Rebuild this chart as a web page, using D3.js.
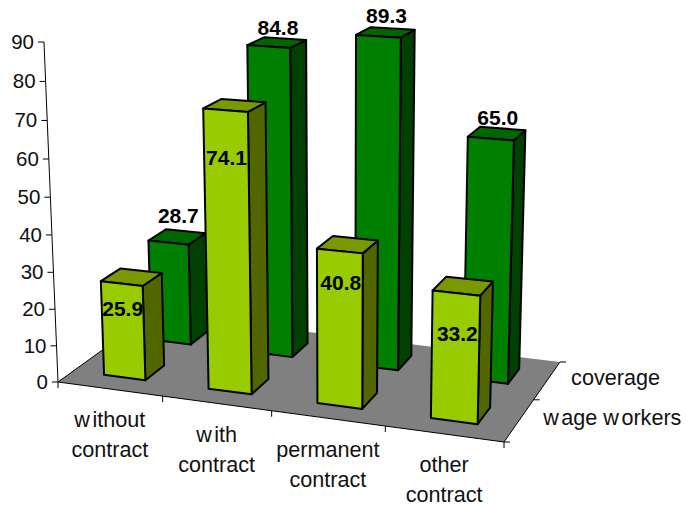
<!DOCTYPE html>
<html>
<head>
<meta charset="utf-8">
<script src="https://cdn.jsdelivr.net/npm/d3@7"></script>
<style>
  html, body { margin: 0; background: #fff; }
  svg { display: block; }
  text { font-family: "Liberation Sans", Arial, sans-serif; fill: #111; }
</style>
</head>
<body>
<div id="vis"></div>
<script>
// Data
const CATEGORIES = [["without", "contract"], ["with", "contract"], ["permanent", "contract"], ["other", "contract"]];
const SERIES = ["wage workers", "coverage"];   // front row first
const WAGE_WORKERS = [25.9, 74.1, 40.8, 33.2];
const COVERAGE = [28.7, 84.8, 89.3, 65.0];
const VALUE_TICKS = [0, 10, 20, 30, 40, 50, 60, 70, 80, 90];

const WIDTH = 686;
const HEIGHT = 509;

// Where the floor corners and the top of the value axis land on screen
const FLOOR = { x0: 58, y0: 382, x1: 504, y1: 442, x2: 560, y2: 362, x3: 153, y3: 313.6 };
const AXIS_TOP_Y = 42;
const VANISH = { x: 340, y: 7228 }; // vertical lines converge down here

// Label nudges in px from the top of the bar (the original labels were placed by hand)
const LIGHT_LABEL_DY = [32, 55, 39, 48];
const GREEN_LABEL_DY = [-14, -8, -9, -9];

const COLORS = {
    "wage workers": { front: "#99cc00", top: "#7a9900", side: "#526600" },
    "coverage": { front: "#008000", top: "#006600", side: "#004000" }
};

const svg = d3.select("#vis").append("svg").attr("width", WIDTH).attr("height", HEIGHT);

// Floor homography, unit square -> screen
const sx = FLOOR.x0 - FLOOR.x1 + FLOOR.x2 - FLOOR.x3;
const sy = FLOOR.y0 - FLOOR.y1 + FLOOR.y2 - FLOOR.y3;
const dx1 = FLOOR.x1 - FLOOR.x2, dx2 = FLOOR.x3 - FLOOR.x2;
const dy1 = FLOOR.y1 - FLOOR.y2, dy2 = FLOOR.y3 - FLOOR.y2;
const det = dx1 * dy2 - dx2 * dy1;
const g = (sx * dy2 - dx2 * sy) / det;
const h = (dx1 * sy - sx * dy1) / det;
const a = FLOOR.x1 - FLOOR.x0 + g * FLOOR.x1, b = FLOOR.x3 - FLOOR.x0 + h * FLOOR.x3;
const d = FLOOR.y1 - FLOOR.y0 + g * FLOOR.y1, e = FLOOR.y3 - FLOOR.y0 + h * FLOOR.y3;
const s = (AXIS_TOP_Y - FLOOR.y0) / (VANISH.y - AXIS_TOP_Y);

// u along the categories, v into the depth, z up, all 0..1
function project(u, v, z) {
    const w = g * u + h * v + 1 + s * z;
    return [
        (a * u + b * v + FLOOR.x0 + s * z * VANISH.x) / w,
        (d * u + e * v + FLOOR.y0 + s * z * VANISH.y) / w
    ];
}

const names = CATEGORIES.map(c => c.join(" "));
const escalaX = d3.scaleBand().domain(names).range([0, 1]).paddingInner(0.6).paddingOuter(0.3);
const escalaDepth = d3.scaleBand().domain(SERIES).range([0, 1]).paddingInner(0.6).paddingOuter(0.3);
const escalaZ = d3.scaleLinear().domain([0, 90]).range([0, 1]);

const poly = d3.line();
const closed = pts => poly(pts) + "Z";

// "w" is set very wide in the original, the gap after it is part of the look
function addText(parent, str, x, y, anchor, size) {
    const t = parent.append("text")
        .attr("x", x).attr("y", y)
        .attr("text-anchor", anchor)
        .attr("font-size", size);
    str.split(/(?<=w)/).forEach((part, i) => {
        t.append("tspan").attr("dx", i ? 2.5 : 0).text(part);
    });
    return t;
}

// Floor
svg.append("path")
    .attr("d", closed([project(0, 0, 0), project(1, 0, 0), project(1, 1, 0), project(0, 1, 0)]))
    .attr("fill", "#808080");

svg.append("path")
    .attr("d", poly([project(0, 1, 0), project(0, 0, 0), project(1, 0, 0), project(1, 1, 0)]))
    .attr("fill", "none").attr("stroke", "#000").attr("stroke-width", 1);

// Value axis
svg.append("path")
    .attr("d", poly([project(0, 0, 0), project(0, 0, 1)]))
    .attr("stroke", "#000").attr("fill", "none");

const ticksY = svg.append("g").selectAll("g").data(VALUE_TICKS).join("g");
ticksY.append("line")
    .attr("x1", t => project(0, 0, escalaZ(t))[0] - 6)
    .attr("x2", t => project(0, 0, escalaZ(t))[0])
    .attr("y1", t => project(0, 0, escalaZ(t))[1])
    .attr("y2", t => project(0, 0, escalaZ(t))[1])
    .attr("stroke", "#000");
ticksY.append("text")
    .attr("x", t => project(0, 0, escalaZ(t))[0] - 10)
    .attr("y", t => project(0, 0, escalaZ(t))[1] + 7)
    .attr("text-anchor", "end")
    .attr("font-size", 20.5)
    .text(t => t);

// Category ticks and labels
d3.range(0, 5).forEach(i => {
    const p = project(i / 4, 0, 0);
    svg.append("line")
        .attr("x1", p[0]).attr("x2", p[0]).attr("y1", p[1]).attr("y2", p[1] + 6)
        .attr("stroke", "#000");
});
CATEGORIES.forEach((lines, i) => {
    const p = project(escalaX(names[i]) + escalaX.bandwidth() / 2, 0, 0);
    lines.forEach((line, j) => addText(svg, line, p[0], p[1] + 38.5 + j * 30, "middle", 21.6));
});

// Series ticks and labels
d3.range(0, 3).forEach(i => {
    const p = project(1, i / 2, 0);
    svg.append("line")
        .attr("x1", p[0]).attr("x2", p[0] + 6).attr("y1", p[1]).attr("y2", p[1])
        .attr("stroke", "#000");
});
SERIES.forEach(name => {
    const p = project(1, escalaDepth(name) + escalaDepth.bandwidth() / 2, 0);
    addText(svg, name, p[0] + 24, p[1] + 4.5, "start", 21.6);
});

// One bar: front, top and right side
function drawBar(name, category, value) {
    const u0 = escalaX(category), u1 = u0 + escalaX.bandwidth();
    const v0 = escalaDepth(name), v1 = v0 + escalaDepth.bandwidth();
    const z = escalaZ(value);
    const faces = [
        ["side", [project(u1, v0, 0), project(u1, v1, 0), project(u1, v1, z), project(u1, v0, z)]],
        ["top", [project(u0, v0, z), project(u1, v0, z), project(u1, v1, z), project(u0, v1, z)]],
        ["front", [project(u0, v0, 0), project(u1, v0, 0), project(u1, v0, z), project(u0, v0, z)]]
    ];
    svg.append("g").selectAll("path").data(faces).join("path")
        .attr("d", f => closed(f[1]))
        .attr("fill", f => COLORS[name][f[0]])
        .attr("stroke", "#000")
        .attr("stroke-width", 2)
        .attr("stroke-linejoin", "round");
}

// Back row first so the front row covers it
COVERAGE.forEach((v, i) => drawBar("coverage", names[i], v));
WAGE_WORKERS.forEach((v, i) => drawBar("wage workers", names[i], v));

// Value labels
function valueLabel(str, p, dy) {
    svg.append("text")
        .attr("x", p[0] + 1).attr("y", p[1] + dy)
        .attr("text-anchor", "middle")
        .attr("font-size", 21)
        .attr("font-weight", "bold")
        .style("fill", "#000")
        .text(str);
}

COVERAGE.forEach((v, i) => {
    const mid = escalaX(names[i]) + escalaX.bandwidth() / 2;
    const depth = escalaDepth("coverage") + escalaDepth.bandwidth() / 2;
    valueLabel(v.toFixed(1), project(mid, depth, escalaZ(v)), GREEN_LABEL_DY[i]);
});
WAGE_WORKERS.forEach((v, i) => {
    const mid = escalaX(names[i]) + escalaX.bandwidth() / 2;
    valueLabel(v.toFixed(1), project(mid, escalaDepth("wage workers"), escalaZ(v)), LIGHT_LABEL_DY[i]);
});
</script>
</body>
</html>
